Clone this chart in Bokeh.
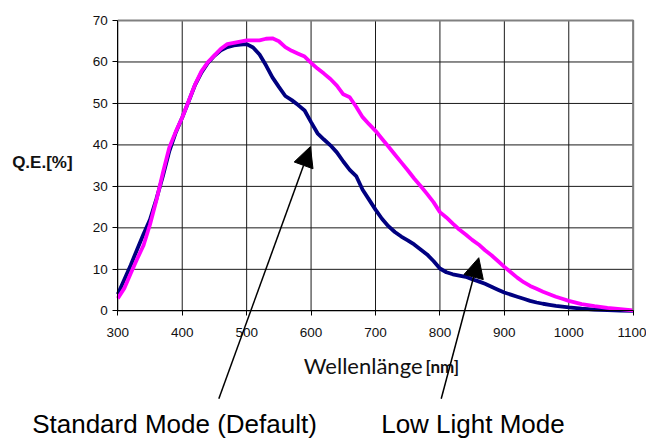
from bokeh.plotting import figure
from bokeh.models import Range1d, FixedTicker, Label, Arrow, NormalHead
from bokeh.embed import file_html
from bokeh.resources import INLINE

wavelength = [300, 310, 320, 330, 340, 350, 360, 370, 380, 390,
              400, 410, 420, 430, 440, 450, 460, 470, 480, 490,
              500, 510, 520, 530, 540, 550, 560, 570, 580, 590,
              600, 610, 620, 630, 640, 650, 660, 670, 680, 690,
              700, 710, 720, 730, 740, 750, 760, 770, 780, 790,
              800, 810, 820, 830, 840, 850, 860, 870, 880, 890,
              900, 910, 920, 930, 940, 950, 960, 970, 980, 990,
              1000, 1020, 1040, 1060, 1080, 1100]

standard_mode = [4.0, 7.5, 11.0, 14.8, 18.5, 22.0, 27.0, 32.5, 38.5, 43.0,
                 46.6, 50.5, 54.5, 57.5, 59.8, 61.5, 62.8, 63.6, 64.0, 64.2,
                 64.3, 63.5, 61.8, 59.2, 56.3, 54.0, 51.8, 50.8, 49.6, 48.3,
                 45.5, 42.8, 41.3, 39.9, 38.2, 36.0, 34.0, 32.5, 29.2, 26.8,
                 24.4, 22.2, 20.4, 19.0, 17.9, 17.0, 16.0, 14.8, 13.6, 12.0,
                 10.2, 9.3, 8.8, 8.5, 8.2, 7.6, 7.1, 6.5, 5.8, 5.1,
                 4.4, 3.9, 3.4, 2.9, 2.4, 2.0, 1.7, 1.45, 1.2, 1.0,
                 0.8, 0.5, 0.3, 0.15, 0.05, 0.0]

low_light_mode = [3.0, 5.4, 9.0, 12.5, 15.8, 20.8, 26.7, 33.3, 39.4, 43.2,
                  46.6, 50.6, 54.6, 57.8, 60.0, 61.6, 63.2, 64.3, 64.6, 64.9,
                  65.2, 65.2, 65.2, 65.6, 65.7, 65.0, 63.6, 62.7, 62.0, 61.3,
                  59.8, 58.4, 57.2, 55.9, 54.3, 52.2, 51.5, 49.2, 46.7, 45.0,
                  43.4, 41.5, 39.6, 37.7, 35.8, 33.9, 31.9, 30.1, 28.2, 26.2,
                  23.8, 22.5, 21.0, 19.6, 18.4, 17.1, 16.0, 14.6, 13.4, 12.0,
                  10.6, 9.3, 8.0, 6.9, 6.0, 5.3, 4.6, 4.0, 3.4, 2.9,
                  2.4, 1.6, 1.1, 0.7, 0.4, 0.1]

x_ticks = [300, 400, 500, 600, 700, 800, 900, 1000, 1100]
y_ticks = [0, 10, 20, 30, 40, 50, 60, 70]

W, H = 646, 438
# plot box in canvas pixels
L, R, T, B = 117.3, 632.7, 20.0, 310.3
x0, x1 = x_ticks[0], x_ticks[-1]
y0, y1 = y_ticks[0], y_ticks[-1]
sx = (x1 - x0) / (R - L)
sy = (y1 - y0) / (B - T)
xr = Range1d(x0 - L * sx, x1 + (W - R) * sx)
yr = Range1d(y0 - (H - B) * sy, y1 + T * sy)

p = figure(width=W, height=H, min_border=0,
           x_range=xr, y_range=yr,
           output_backend="svg", toolbar_location=None,
           background_fill_color="white", border_fill_color="white")
p.outline_line_color = None

p.xaxis.fixed_location = y0
p.yaxis.fixed_location = x0
p.xaxis.bounds = (x0, x1)
p.yaxis.bounds = (y0, y1)

for ax in (p.xaxis[0], p.yaxis[0]):
    ax.axis_line_color = "black"
    ax.axis_line_width = 1
    ax.major_tick_line_color = "black"
    ax.major_tick_in = 0
    ax.major_tick_out = 5
    ax.minor_tick_line_color = None
    ax.major_label_text_font = "Liberation Sans"
    ax.major_label_text_font_size = "13.5px"
    ax.major_label_text_color = "#111111"

p.xaxis.ticker = FixedTicker(ticks=x_ticks)
p.yaxis.ticker = FixedTicker(ticks=y_ticks)
p.xaxis.major_label_standoff = 12
p.yaxis.major_label_standoff = 5

# grid restricted to the plot box
for g in p.grid:
    g.visible = False
p.segment(x0=x_ticks, y0=[y0] * len(x_ticks), x1=x_ticks, y1=[y1] * len(x_ticks),
          line_color="#1a1a1a", line_width=1)
p.segment(x0=[x0] * len(y_ticks), y0=y_ticks, x1=[x1] * len(y_ticks), y1=y_ticks,
          line_color="#1a1a1a", line_width=1)

p.line(wavelength, standard_mode, line_color="#000080", line_width=3.8)
p.line(wavelength, low_light_mode, line_color="#FF00FF", line_width=3.8)

# gray top/right border of plot box
p.line([x0, x1, x1], [y1, y1, y0], line_color="#808080", line_width=2)

# axis titles
p.add_layout(Label(x=136, y=35.8, text="Q.E.[%]", text_font="Liberation Sans",
                   text_font_style="bold", text_font_size="17px",
                   text_baseline="middle", text_color="#111111"))
p.add_layout(Label(x=588.7, y=-13.2, text="Wellenlänge", text_font="Lato",
                   text_font_size="22px", text_baseline="middle",
                   text_color="#111111"))
p.add_layout(Label(x=777.6, y=-13.5, text="[nm]", text_font="Lato",
                   text_font_style="bold", text_font_size="17px",
                   text_baseline="middle", text_color="#111111"))

# mode annotations
p.add_layout(Label(x=167.1, y=-27.2, text="Standard Mode (Default)",
                   text_font="Liberation Sans", text_font_size="26px",
                   text_baseline="middle", text_color="black"))
p.add_layout(Label(x=708.8, y=-27.2, text="Low Light Mode",
                   text_font="Liberation Sans", text_font_size="26px",
                   text_baseline="middle", text_color="black"))

p.add_layout(Arrow(x_start=456.8, y_start=-21.2, x_end=599.0, y_end=39.6,
                   line_color="black", line_width=1.5,
                   end=NormalHead(size=20, fill_color="black", line_color="black")))
p.add_layout(Arrow(x_start=802.0, y_start=-21.2, x_end=860.3, y_end=12.8,
                   line_color="black", line_width=1.5,
                   end=NormalHead(size=20, fill_color="black", line_color="black")))

open("out.html", "w").write(file_html(p, INLINE))
